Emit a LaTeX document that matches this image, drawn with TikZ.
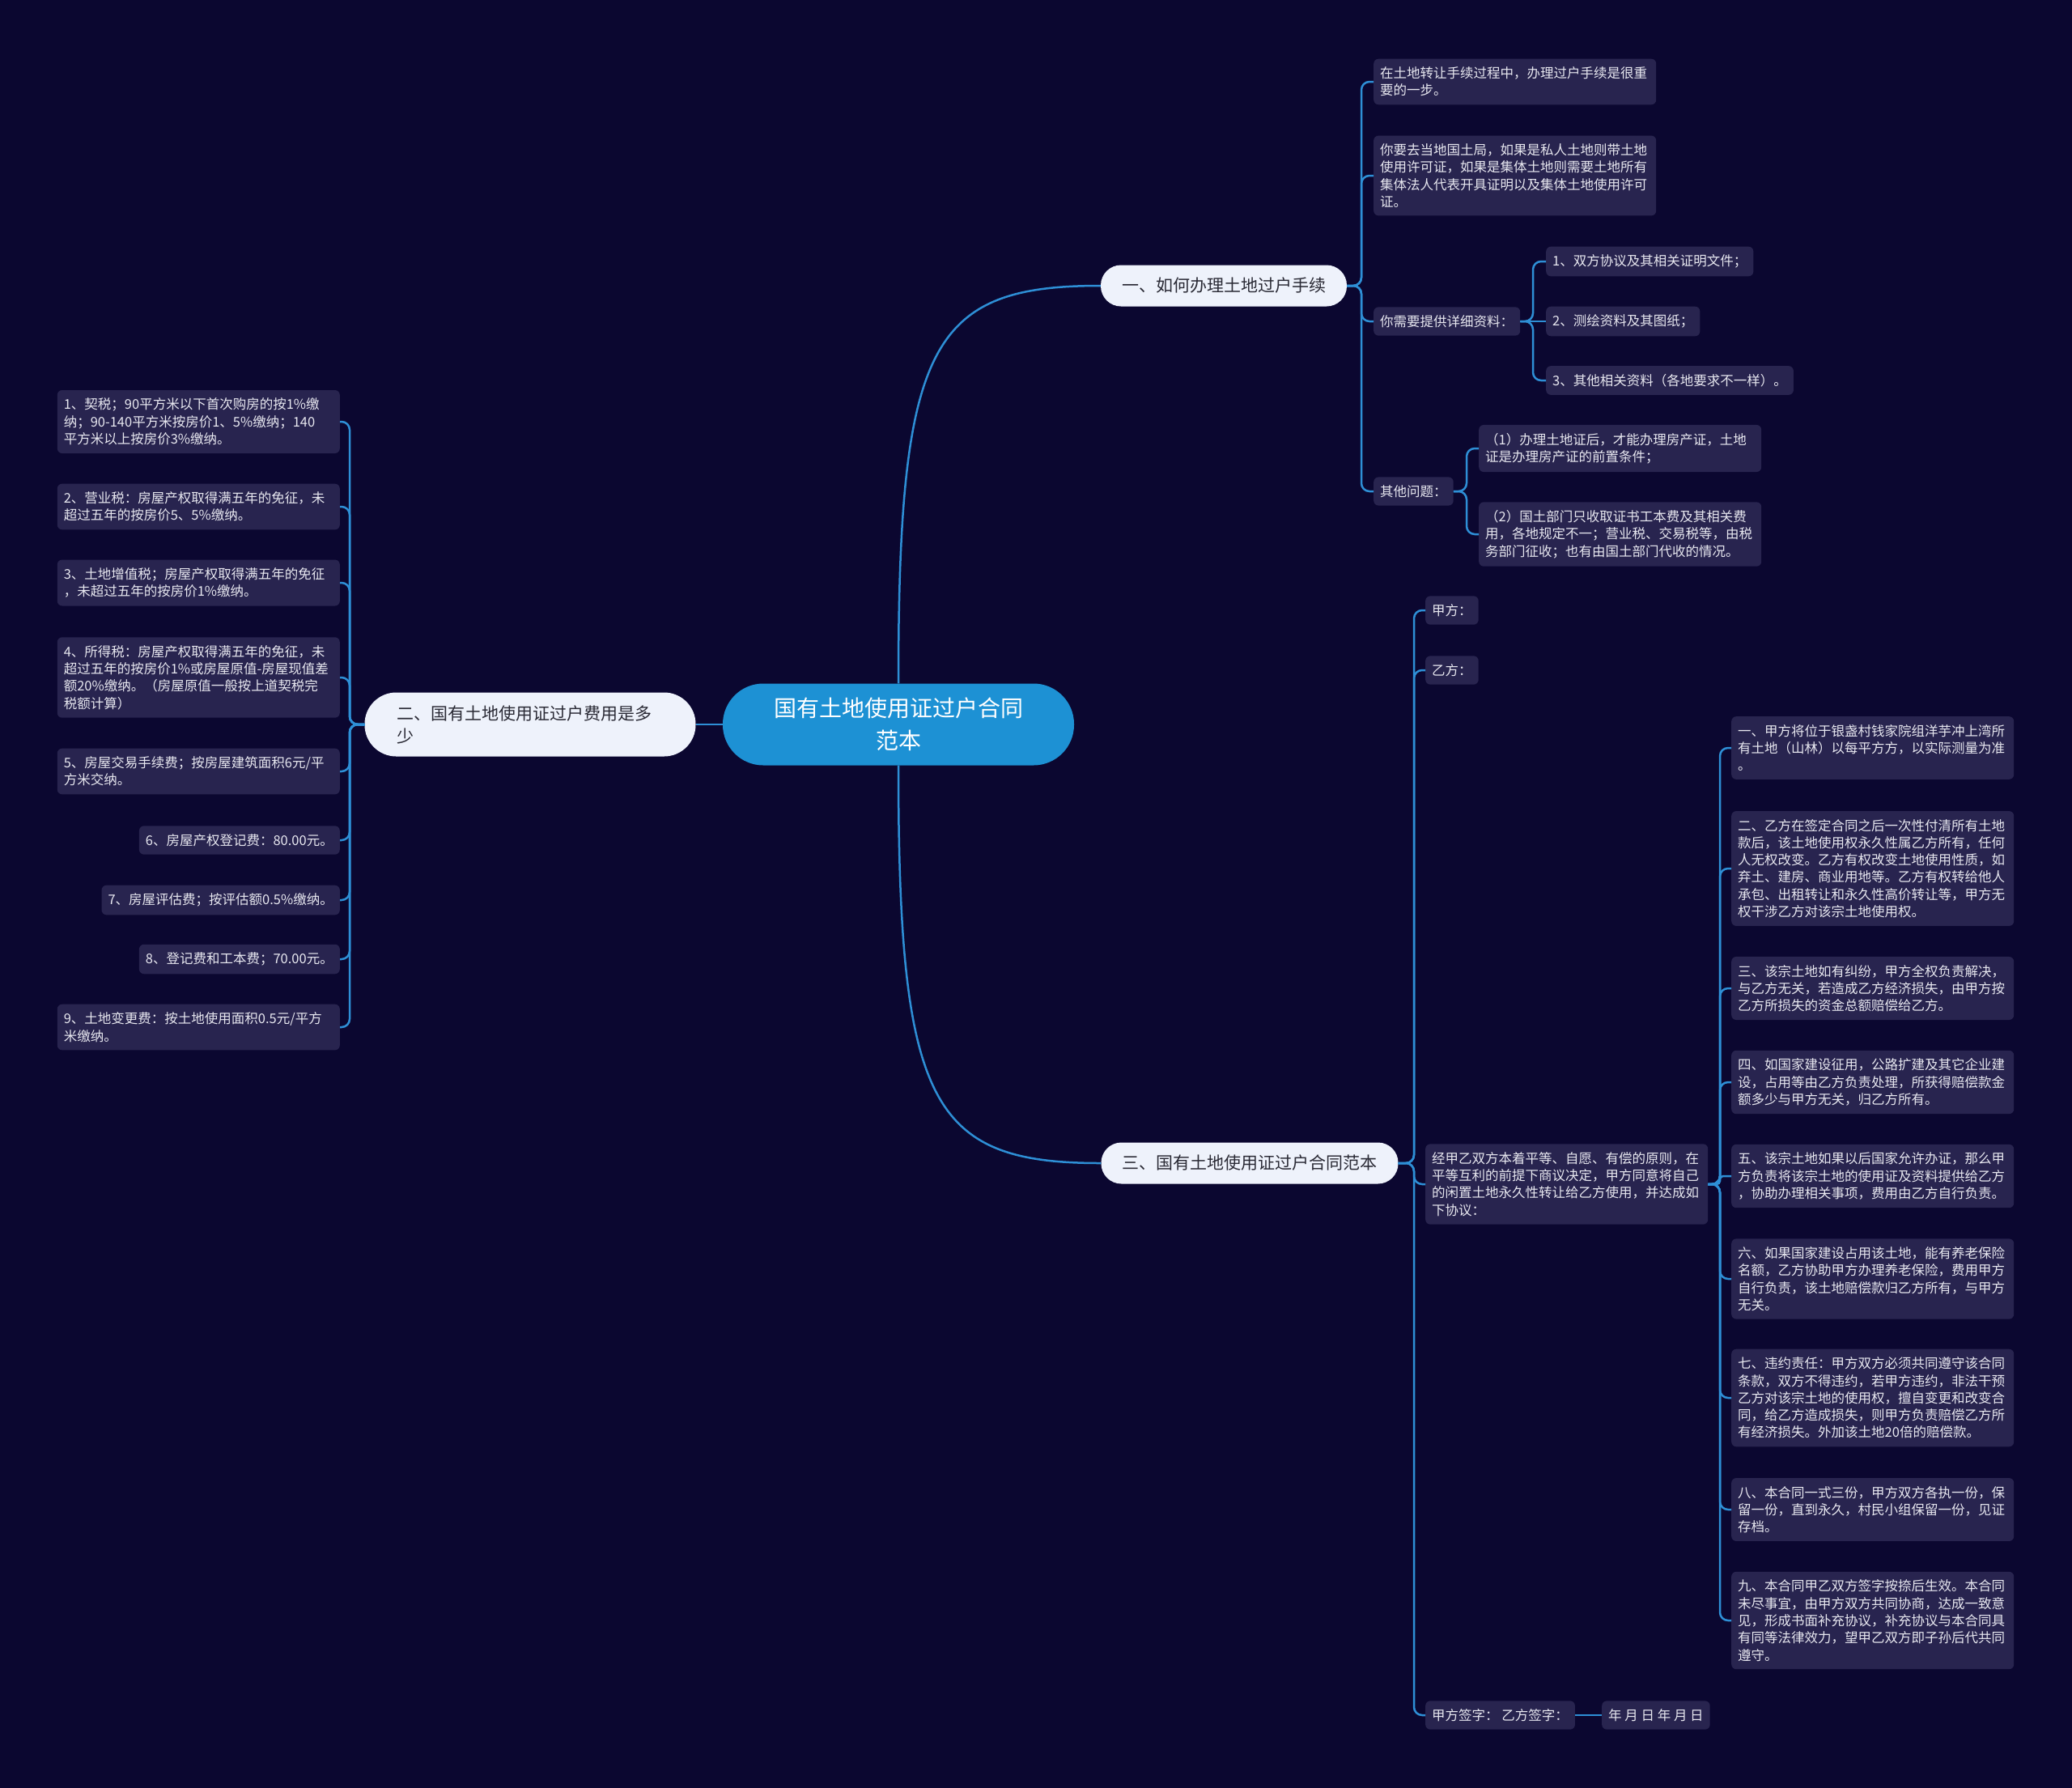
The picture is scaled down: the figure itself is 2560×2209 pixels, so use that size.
\documentclass[tikz,border=0pt]{standalone}
\usepackage{fontspec}
\newfontfamily\cjk{Noto Sans CJK SC}
\usetikzlibrary{calc}

\definecolor{bgnavy}{HTML}{0B0730}
\definecolor{leaffill}{HTML}{28244F}
\definecolor{leaftext}{HTML}{E8E8F0}
\definecolor{linkblue}{HTML}{2E8FD6}
\definecolor{rootblue}{HTML}{1D91D4}
\definecolor{topicfill}{HTML}{EEF2FB}
\definecolor{topictext}{HTML}{2A2A35}

\tikzset{
  root/.style={fill=rootblue, text=white, font=\cjk\fontsize{28}{40}\selectfont, align=center,
    rounded corners=50pt, minimum width=434pt, minimum height=101pt, inner sep=0pt},
  topic/.style={fill=topicfill, text=topictext, font=\cjk\fontsize{21}{28}\selectfont,
    inner sep=0pt, minimum height=51pt, rounded corners=25pt},
  leaf/.style={fill=leaffill, text=leaftext, font=\cjk\fontsize{16.5}{21.3}\selectfont,
    rounded corners=6pt, inner xsep=8pt, inner ysep=10pt, align=left},
  wide/.style={leaf, text width=333pt},
  link/.style={draw=linkblue, line width=2.5pt, rounded corners=10pt}
}

\begin{document}
\begin{tikzpicture}[x=1pt,y=-1pt]
\fill[bgnavy] (0,0) rectangle (2560,2209);
\useasboundingbox (0,0) rectangle (2560,2209);

% centre and main topics
\node[root] (root) at (1110,895) {国有土地使用证过户合同\\范本};
\node[topic, minimum width=304pt] (b1) at (1512,353) {一、如何办理土地过户手续};
\node[topic, text width=329pt, align=left, inner xsep=40pt, minimum height=79pt, rounded corners=39pt] (b2) at (655,895) {二、国有土地使用证过户费用是多\\少};
\node[topic, minimum width=367pt] (b3) at (1544,1437) {三、国有土地使用证过户合同范本};

% branch 1
\node[wide, anchor=west] (c1) at (1697,101) {在土地转让手续过程中，办理过户手续是很重\\要的一步。};
\node[wide, anchor=west] (c2) at (1697,217) {你要去当地国土局，如果是私人土地则带土地\\使用许可证，如果是集体土地则需要土地所有\\集体法人代表开具证明以及集体土地使用许可\\证。};
\node[leaf, anchor=west] (c3) at (1697,397) {你需要提供详细资料：};
\node[leaf, anchor=west] (c4) at (1697,607) {其他问题：};
\node[leaf, anchor=west] (d1) at (1910,323) {1、双方协议及其相关证明文件；};
\node[leaf, anchor=west] (d2) at (1910,397) {2、测绘资料及其图纸；};
\node[leaf, anchor=west] (d3) at (1910,470) {3、其他相关资料（各地要求不一样）。};
\node[wide, anchor=west] (e1) at (1827,554) {（1）办理土地证后，才能办理房产证，土地\\证是办理房产证的前置条件；};
\node[wide, anchor=west] (e2) at (1827,660) {（2）国土部门只收取证书工本费及其相关费\\用，各地规定不一；营业税、交易税等，由税\\务部门征收；也有由国土部门代收的情况。};

% branch 2
\node[wide, anchor=east] (f1) at (420,521) {1、契税；90平方米以下首次购房的按1\%缴\\纳；90-140平方米按房价1、5\%缴纳；140\\平方米以上按房价3\%缴纳。};
\node[wide, anchor=east] (f2) at (420,626) {2、营业税：房屋产权取得满五年的免征，未\\超过五年的按房价5、5\%缴纳。};
\node[wide, anchor=east] (f3) at (420,720) {3、土地增值税；房屋产权取得满五年的免征\\，未超过五年的按房价1\%缴纳。};
\node[wide, anchor=east] (f4) at (420,837) {4、所得税：房屋产权取得满五年的免征，未\\超过五年的按房价1\%或房屋原值-房屋现值差\\额20\%缴纳。（房屋原值一般按上道契税完\\税额计算）};
\node[wide, anchor=east] (f5) at (420,953) {5、房屋交易手续费；按房屋建筑面积6元/平\\方米交纳。};
\node[leaf, anchor=east] (f6) at (420,1038) {6、房屋产权登记费：80.00元。};
\node[leaf, anchor=east] (f7) at (420,1112) {7、房屋评估费；按评估额0.5\%缴纳。};
\node[leaf, anchor=east] (f8) at (420,1185) {8、登记费和工本费；70.00元。};
\node[wide, anchor=east] (f9) at (420,1269) {9、土地变更费：按土地使用面积0.5元/平方\\米缴纳。};

% branch 3
\node[leaf, anchor=west] (g1) at (1761,754) {甲方：};
\node[leaf, anchor=west] (g2) at (1761,828) {乙方：};
\node[wide, anchor=west] (g3) at (1761,1463) {经甲乙双方本着平等、自愿、有偿的原则，在\\平等互利的前提下商议决定，甲方同意将自己\\的闲置土地永久性转让给乙方使用，并达成如\\下协议：};
\node[leaf, anchor=west] (g4) at (1761,2119) {甲方签字： 乙方签字：};
\node[leaf, anchor=west] (h1) at (1979,2119) {年 月 日 年 月 日};
\node[wide, anchor=west] (k1) at (2139,924) {一、甲方将位于银盏村钱家院组洋芋冲上湾所\\有土地（山林）以每平方方，以实际测量为准\\。};
\node[wide, anchor=west] (k2) at (2139,1073) {二、乙方在签定合同之后一次性付清所有土地\\款后，该土地使用权永久性属乙方所有，任何\\人无权改变。乙方有权改变土地使用性质，如\\弃土、建房、商业用地等。乙方有权转给他人\\承包、出租转让和永久性高价转让等，甲方无\\权干涉乙方对该宗土地使用权。};
\node[wide, anchor=west] (k3) at (2139,1221) {三、该宗土地如有纠纷，甲方全权负责解决，\\与乙方无关，若造成乙方经济损失，由甲方按\\乙方所损失的资金总额赔偿给乙方。};
\node[wide, anchor=west] (k4) at (2139,1337) {四、如国家建设征用，公路扩建及其它企业建\\设，占用等由乙方负责处理，所获得赔偿款金\\额多少与甲方无关，归乙方所有。};
\node[wide, anchor=west] (k5) at (2139,1453) {五、该宗土地如果以后国家允许办证，那么甲\\方负责将该宗土地的使用证及资料提供给乙方\\，协助办理相关事项，费用由乙方自行负责。};
\node[wide, anchor=west] (k6) at (2139,1580) {六、如果国家建设占用该土地，能有养老保险\\名额，乙方协助甲方办理养老保险，费用甲方\\自行负责，该土地赔偿款归乙方所有，与甲方\\无关。};
\node[wide, anchor=west] (k7) at (2139,1727) {七、违约责任：甲方双方必须共同遵守该合同\\条款，双方不得违约，若甲方违约，非法干预\\乙方对该宗土地的使用权，擅自变更和改变合\\同，给乙方造成损失，则甲方负责赔偿乙方所\\有经济损失。外加该土地20倍的赔偿款。};
\node[wide, anchor=west] (k8) at (2139,1865) {八、本合同一式三份，甲方双方各执一份，保\\留一份，直到永久，村民小组保留一份，见证\\存档。};
\node[wide, anchor=west] (k9) at (2139,2002) {九、本合同甲乙双方签字按捺后生效。本合同\\未尽事宜，由甲方双方共同协商，达成一致意\\见，形成书面补充协议，补充协议与本合同具\\有同等法律效力，望甲乙双方即子孙后代共同\\遵守。};

% connectors
\draw[link] (root.north) .. controls +(0,-420) and +(-210,0) .. (b1.west);
\draw[link] (root.south) .. controls +(0,420) and +(-210,0) .. (b3.west);
\draw[link] (root.west) -- (b2.east);
\foreach \n in {c1,c2,c3,c4} \draw[link] (b1.east) -| ($(\n.west)+(-15,0)$) -- (\n.west);
\foreach \n in {d1,d3} \draw[link] (c3.east) -| ($(\n.west)+(-16,0)$) -- (\n.west);
\draw[link] (c3.east) -- (d2.west);
\foreach \n in {e1,e2} \draw[link] (c4.east) -| ($(\n.west)+(-15,0)$) -- (\n.west);
\foreach \n in {f1,f2,f3,f4,f5,f6,f7,f8,f9} \draw[link] (b2.west) -| ($(\n.east)+(12,0)$) -- (\n.east);
\foreach \n in {g1,g2,g3,g4} \draw[link] (b3.east) -| ($(\n.west)+(-14,0)$) -- (\n.west);
\foreach \n in {k1,k2,k3,k4,k6,k7,k8,k9} \draw[link] (g3.east) -| ($(\n.west)+(-14,0)$) -- (\n.west);
\draw[link, rounded corners=4pt] (g3.east) -| ($(k5.west)+(-14,0)$) -- (k5.west);
\draw[link] (g4.east) -- (h1.west);
\end{tikzpicture}
\end{document}
